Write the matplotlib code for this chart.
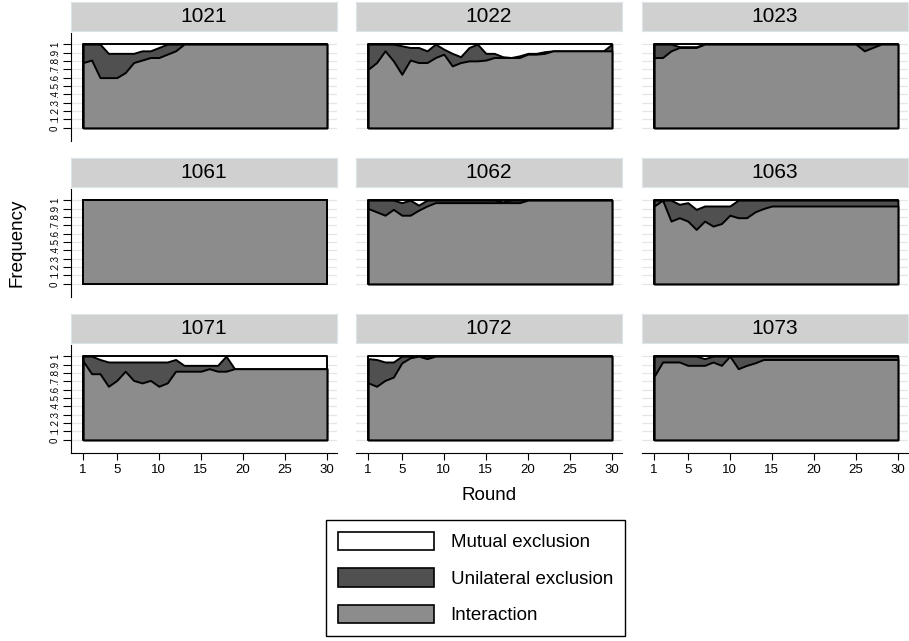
import matplotlib
matplotlib.use('Agg')
import matplotlib.pyplot as plt
from matplotlib.patches import Patch

plt.rcParams['font.family'] = ['Liberation Sans', 'DejaVu Sans']

rounds = list(range(1, 31))
groups = ['1021', '1022', '1023', '1061', '1062', '1063', '1071', '1072', '1073']

# share of pairs that interacted in each round
interaction = {
    '1021': [0.78, 0.81, 0.60, 0.60, 0.60, 0.66, 0.78, 0.81, 0.84, 0.84, 0.88, 0.92, 1.00, 1.00, 1.00,
             1.00, 1.00, 1.00, 1.00, 1.00, 1.00, 1.00, 1.00, 1.00, 1.00, 1.00, 1.00, 1.00, 1.00, 1.00],
    '1022': [0.70, 0.78, 0.92, 0.80, 0.64, 0.81, 0.78, 0.78, 0.84, 0.88, 0.74, 0.78, 0.80, 0.80, 0.81,
             0.84, 0.84, 0.84, 0.84, 0.88, 0.88, 0.89, 0.92, 0.92, 0.92, 0.92, 0.92, 0.92, 0.92, 0.92],
    '1023': [0.84, 0.84, 0.92, 0.96, 0.96, 0.96, 1.00, 1.00, 1.00, 1.00, 1.00, 1.00, 1.00, 1.00, 1.00,
             1.00, 1.00, 1.00, 1.00, 1.00, 1.00, 1.00, 1.00, 1.00, 1.00, 0.92, 0.96, 1.00, 1.00, 1.00],
    '1061': [1.00, 1.00, 1.00, 1.00, 1.00, 1.00, 1.00, 1.00, 1.00, 1.00, 1.00, 1.00, 1.00, 1.00, 1.00,
             1.00, 1.00, 1.00, 1.00, 1.00, 1.00, 1.00, 1.00, 1.00, 1.00, 1.00, 1.00, 1.00, 1.00, 1.00],
    '1062': [0.90, 0.86, 0.82, 0.89, 0.82, 0.82, 0.88, 0.93, 0.97, 0.97, 0.97, 0.97, 0.97, 0.97, 0.97,
             0.97, 0.97, 0.97, 0.97, 1.00, 1.00, 1.00, 1.00, 1.00, 1.00, 1.00, 1.00, 1.00, 1.00, 1.00],
    '1063': [0.93, 1.00, 0.75, 0.79, 0.75, 0.65, 0.75, 0.69, 0.72, 0.82, 0.79, 0.79, 0.86, 0.90, 0.93,
             0.93, 0.93, 0.93, 0.93, 0.93, 0.93, 0.93, 0.93, 0.93, 0.93, 0.93, 0.93, 0.93, 0.93, 0.93],
    '1071': [0.94, 0.79, 0.79, 0.64, 0.71, 0.82, 0.71, 0.68, 0.71, 0.64, 0.68, 0.82, 0.82, 0.82, 0.82,
             0.85, 0.82, 0.82, 0.85, 0.85, 0.85, 0.85, 0.85, 0.85, 0.85, 0.85, 0.85, 0.85, 0.85, 0.85],
    '1072': [0.68, 0.64, 0.71, 0.75, 0.92, 0.98, 1.00, 0.97, 1.00, 1.00, 1.00, 1.00, 1.00, 1.00, 1.00,
             1.00, 1.00, 1.00, 1.00, 1.00, 1.00, 1.00, 1.00, 1.00, 1.00, 1.00, 1.00, 1.00, 1.00, 1.00],
    '1073': [0.76, 0.93, 0.93, 0.93, 0.89, 0.89, 0.89, 0.93, 0.89, 1.00, 0.85, 0.89, 0.92, 0.96, 0.96,
             0.96, 0.96, 0.96, 0.96, 0.96, 0.96, 0.96, 0.96, 0.96, 0.96, 0.96, 0.96, 0.96, 0.96, 0.96],
}

# share of pairs where one side excluded the other
unilateral = {
    '1021': [0.22, 0.19, 0.40, 0.29, 0.29, 0.23, 0.11, 0.11, 0.08, 0.12, 0.12, 0.08, 0.00, 0.00, 0.00,
             0.00, 0.00, 0.00, 0.00, 0.00, 0.00, 0.00, 0.00, 0.00, 0.00, 0.00, 0.00, 0.00, 0.00, 0.00],
    '1022': [0.30, 0.22, 0.08, 0.20, 0.34, 0.15, 0.18, 0.14, 0.16, 0.06, 0.15, 0.07, 0.16, 0.20, 0.08,
             0.05, 0.01, 0.00, 0.02, 0.01, 0.01, 0.02, 0.00, 0.00, 0.00, 0.00, 0.00, 0.00, 0.00, 0.08],
    '1023': [0.16, 0.16, 0.08, 0.01, 0.01, 0.01, 0.00, 0.00, 0.00, 0.00, 0.00, 0.00, 0.00, 0.00, 0.00,
             0.00, 0.00, 0.00, 0.00, 0.00, 0.00, 0.00, 0.00, 0.00, 0.00, 0.08, 0.04, 0.00, 0.00, 0.00],
    '1061': [0.00, 0.00, 0.00, 0.00, 0.00, 0.00, 0.00, 0.00, 0.00, 0.00, 0.00, 0.00, 0.00, 0.00, 0.00,
             0.00, 0.00, 0.00, 0.00, 0.00, 0.00, 0.00, 0.00, 0.00, 0.00, 0.00, 0.00, 0.00, 0.00, 0.00],
    '1062': [0.10, 0.14, 0.18, 0.11, 0.15, 0.18, 0.06, 0.07, 0.03, 0.03, 0.03, 0.03, 0.03, 0.03, 0.03,
             0.03, 0.01, 0.03, 0.03, 0.00, 0.00, 0.00, 0.00, 0.00, 0.00, 0.00, 0.00, 0.00, 0.00, 0.00],
    '1063': [0.07, 0.00, 0.25, 0.16, 0.22, 0.24, 0.18, 0.24, 0.21, 0.11, 0.21, 0.21, 0.14, 0.10, 0.07,
             0.07, 0.07, 0.07, 0.07, 0.07, 0.07, 0.07, 0.07, 0.07, 0.07, 0.07, 0.07, 0.07, 0.07, 0.07],
    '1071': [0.06, 0.21, 0.17, 0.29, 0.22, 0.11, 0.22, 0.25, 0.22, 0.29, 0.25, 0.14, 0.07, 0.07, 0.07,
             0.04, 0.07, 0.18, 0.00, 0.00, 0.00, 0.00, 0.00, 0.00, 0.00, 0.00, 0.00, 0.00, 0.00, 0.00],
    '1072': [0.29, 0.32, 0.22, 0.18, 0.08, 0.02, 0.00, 0.03, 0.00, 0.00, 0.00, 0.00, 0.00, 0.00, 0.00,
             0.00, 0.00, 0.00, 0.00, 0.00, 0.00, 0.00, 0.00, 0.00, 0.00, 0.00, 0.00, 0.00, 0.00, 0.00],
    '1073': [0.24, 0.07, 0.07, 0.07, 0.11, 0.11, 0.08, 0.07, 0.11, 0.00, 0.15, 0.11, 0.08, 0.04, 0.04,
             0.04, 0.04, 0.04, 0.04, 0.04, 0.04, 0.04, 0.04, 0.04, 0.04, 0.04, 0.04, 0.04, 0.04, 0.04],
}

series_names = ['Mutual exclusion', 'Unilateral exclusion', 'Interaction']
series_colors = ['white', '#505050', '#8c8c8c']

ytick_vals = [0, .1, .2, .3, .4, .5, .6, .7, .8, .9, 1]
ytick_labels = ['0', '.1', '.2', '.3', '.4', '.5', '.6', '.7', '.8', '.9', '1']
xtick_vals = [1, 5, 10, 15, 20, 25, 30]

W, H = 909, 641
fig = plt.figure(figsize=(W / 100, H / 100), dpi=100)


def px_box(left, top, width, height):
    return [left / W, 1 - (top + height) / H, width / W, height / H]


col_left = [71, 356, 642]
col_w = 266
row_top = [2, 158, 314]
strip_h = 29
plot_off = 31
plot_h = 108

for k, g in enumerate(groups):
    r, c = divmod(k, 3)

    # grey strip with the group id
    sax = fig.add_axes(px_box(col_left[c], row_top[r], col_w, strip_h))
    sax.set_facecolor('#d0d0d0')
    for sp in sax.spines.values():
        sp.set_color('#dbe4e8')
        sp.set_linewidth(0.8)
    sax.set_xticks([])
    sax.set_yticks([])
    sax.text(0.5, 0.5, g, ha='center', va='center', fontsize=15, transform=sax.transAxes)

    ax = fig.add_axes(px_box(col_left[c], row_top[r] + plot_off, col_w, plot_h))
    inter = interaction[g]
    uni = unilateral[g]
    mutual = [1 - a - b for a, b in zip(inter, uni)]
    top_uni = [a + b for a, b in zip(inter, uni)]
    top_all = [a + b + m for a, b, m in zip(inter, uni, mutual)]

    # stacked areas drawn back to front, each outlined in black
    ax.fill_between(rounds, 0, top_all, facecolor=series_colors[0], edgecolor='black', linewidth=1.4, zorder=2)
    ax.fill_between(rounds, 0, top_uni, facecolor=series_colors[1], edgecolor='black', linewidth=1.4, zorder=3)
    ax.fill_between(rounds, 0, inter, facecolor=series_colors[2], edgecolor='black', linewidth=1.4, zorder=4)

    ax.set_xlim(-0.45, 31.2)
    ax.set_ylim(-0.157, 1.133)
    ax.set_yticks(ytick_vals)
    ax.grid(axis='y', color='#e6e6e6', linewidth=0.9, zorder=0)
    ax.set_axisbelow(True)
    for sp in ax.spines.values():
        sp.set_visible(False)

    if c == 0:
        ax.spines['left'].set_visible(True)
        ax.spines['left'].set_linewidth(0.8)
        ax.set_yticklabels(ytick_labels, rotation=90, va='center', fontsize=7)
        ax.tick_params(axis='y', length=6, width=0.8, pad=2)
    else:
        ax.tick_params(axis='y', left=False, labelleft=False)

    if r == 2:
        ax.spines['bottom'].set_visible(True)
        ax.spines['bottom'].set_linewidth(0.8)
        ax.set_xticks(xtick_vals)
        ax.tick_params(axis='x', length=5, width=0.8, labelsize=9.5, pad=3)
    else:
        ax.set_xticks([])

fig.text(17 / W, 1 - 243 / H, 'Frequency', rotation=90, ha='center', va='center', fontsize=13.5)
fig.text(489 / W, 1 - 496 / H, 'Round', ha='center', va='center', fontsize=13.5)

handles = [Patch(facecolor=col, edgecolor='black', linewidth=1.2) for col in series_colors]
leg = fig.legend(handles, series_names, loc='center', bbox_to_anchor=(475.5 / W, 1 - 578 / H),
                 fontsize=13.5, handlelength=5.1, handleheight=1.12, labelspacing=0.9,
                 handletextpad=0.9, borderpad=0.65, fancybox=False, framealpha=1)
leg.get_frame().set_edgecolor('black')
leg.get_frame().set_linewidth(1.0)

fig.savefig('out.png', dpi=100)
